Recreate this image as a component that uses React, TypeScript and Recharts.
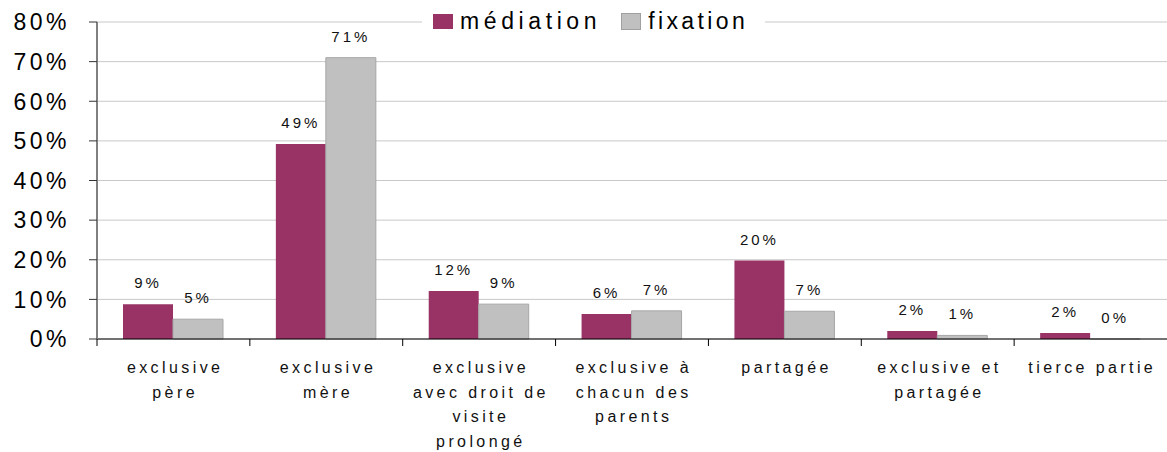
import React from "react";
import {
  BarChart,
  Bar,
  XAxis,
  YAxis,
  CartesianGrid,
  LabelList,
} from "recharts";

const categories = [
  "exclusive\npère",
  "exclusive\nmère",
  "exclusive\navec droit de\nvisite\nprolongé",
  "exclusive à\nchacun des\nparents",
  "partagée",
  "exclusive et\npartagée",
  "tierce partie",
];
const mediation = [8.8, 49.2, 12.1, 6.3, 19.8, 2.0, 1.5];
const fixation = [5.0, 71.0, 8.8, 7.1, 7.0, 0.9, 0];
const yTicks = [0, 10, 20, 30, 40, 50, 60, 70, 80];

const PURPLE = "#993366";
const GREY = "#c0c0c0";
const FONT = '"Liberation Sans", Arial, sans-serif';

const W = 1167;
const H = 452;
const Y_AXIS_W = 97;

const data = categories.map((name, i) => ({
  name,
  mediation: mediation[i],
  fixation: fixation[i],
}));

const bandWidth = (W - Y_AXIS_W) / categories.length;

const XTick = (props: any) => {
  const { x, y, payload } = props;
  const lines = String(payload.value).split("\n");
  const half = payload.offset ? payload.offset : bandWidth / 2;
  return (
    <g>
      <line x1={x - half} x2={x - half} y1={y} y2={y + 7} stroke="#000" strokeWidth={1} />
      <text
        x={x + 1.7}
        y={y + 34}
        textAnchor="middle"
        fontFamily={FONT}
        fontSize={16}
        letterSpacing={3.4}
        fill="#111"
      >
        {lines.map((l, i) => (
          <tspan key={i} x={x + 1.7} dy={i === 0 ? 0 : 24.5}>
            {l}
          </tspan>
        ))}
      </text>
    </g>
  );
};

const YTick = (props: any) => {
  const { x, y, payload } = props;
  return (
    <text
      x={x - 19}
      y={y}
      dy="0.36em"
      textAnchor="end"
      fontFamily={FONT}
      fontSize={23}
      letterSpacing={3.5}
      fill="#000"
    >
      {`${payload.value}%`}
    </text>
  );
};

const BarLabel = (props: any) => {
  const { x, y, width, value } = props;
  if (value == null) return null;
  return (
    <text
      x={Number(x) + Number(width) / 2}
      y={Number(y) - 16}
      textAnchor="middle"
      fontFamily={FONT}
      fontSize={15}
      letterSpacing={3}
      fill="#111"
    >
      {`${Math.round(Number(value))}%`}
    </text>
  );
};

const legendItems = [
  { label: "médiation", color: PURPLE, stroke: PURPLE, spacing: 4.6 },
  { label: "fixation", color: GREY, stroke: "#a0a0a0", spacing: 3.4 },
];

export default function App() {
  return (
    <div style={{ position: "absolute", left: 0, top: 0, width: W, height: H, background: "#fff" }}>
      <BarChart
        width={W}
        height={H}
        data={data}
        margin={{ top: 22, right: 0, bottom: 0, left: 0 }}
        barGap={0}
        barSize={50}
      >
        <CartesianGrid vertical={false} stroke="#c8c8c8" strokeWidth={1} />
        <XAxis
          dataKey="name"
          height={H - 339}
          interval={0}
          tickLine={false}
          tickSize={0}
          tickMargin={0}
          axisLine={{ stroke: "#000", strokeWidth: 1.2 }}
          tick={<XTick />}
        />
        <YAxis
          width={Y_AXIS_W}
          domain={[0, 80]}
          ticks={yTicks}
          interval={0}
          tickSize={8}
          tickMargin={0}
          tickLine={{ stroke: "#333" }}
          axisLine={{ stroke: "#808080", strokeWidth: 2 }}
          tick={<YTick />}
        />
        <Bar dataKey="mediation" fill={PURPLE} isAnimationActive={false}>
          <LabelList dataKey="mediation" content={<BarLabel />} />
        </Bar>
        <Bar
          dataKey="fixation"
          fill={GREY}
          stroke="#a6a6a6"
          strokeWidth={1}
          minPointSize={(v: number) => (v === 0 ? 0.01 : 0)}
          isAnimationActive={false}
        >
          <LabelList dataKey="fixation" content={<BarLabel />} />
        </Bar>
      </BarChart>
      <div
        style={{
          position: "absolute",
          left: 422,
          top: 6,
          width: 343,
          height: 30,
          background: "#fff",
          display: "flex",
          alignItems: "center",
          fontFamily: FONT,
          fontSize: 23,
          color: "#000",
        }}
      >
        {legendItems.map((it, i) => (
          <div key={it.label} style={{ display: "flex", alignItems: "center", marginLeft: i === 0 ? 11 : 20 }}>
            <span
              style={{
                display: "inline-block",
                width: i === 0 ? 20 : 18,
                height: 15,
                background: it.color,
                border: i === 0 ? "none" : `1px solid ${it.stroke}`,
                marginRight: 7,
              }}
            />
            <span style={{ letterSpacing: it.spacing }}>{it.label}</span>
          </div>
        ))}
      </div>
    </div>
  );
}
